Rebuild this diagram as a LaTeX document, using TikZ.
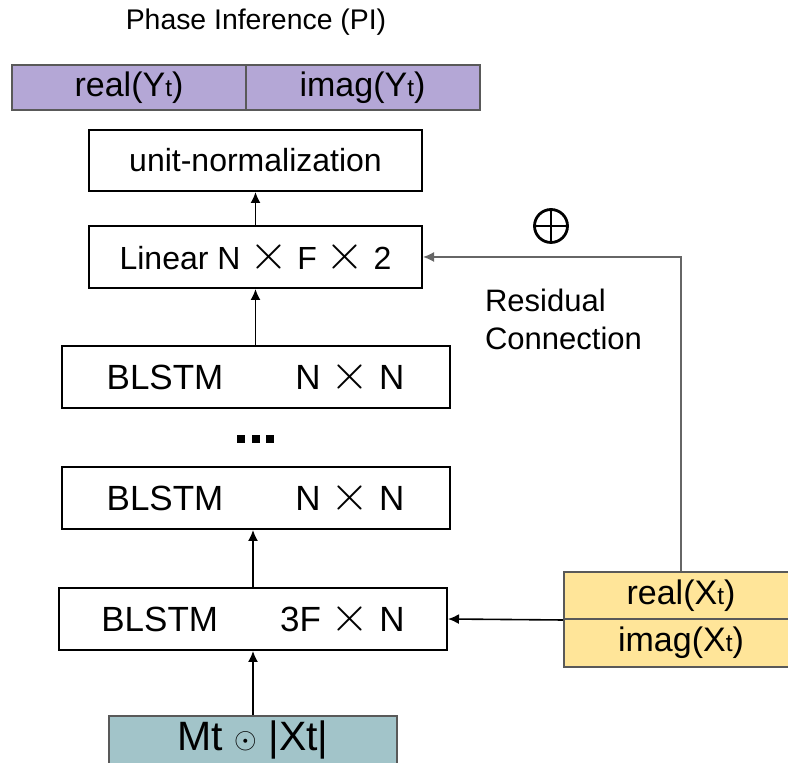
\documentclass[tikz,border=0pt]{standalone}
\usepackage{fontspec}
\setmainfont{Liberation Sans}
\usepackage{amsmath}
\usepackage{xcolor}
\usetikzlibrary{positioning}
\usetikzlibrary{arrows.meta}

\definecolor{phasepurple}{HTML}{B4A7D6}
\definecolor{specyellow}{HTML}{FFE599}
\definecolor{magteal}{HTML}{A2C4C9}
\definecolor{edgegray}{HTML}{595959}
\definecolor{resgray}{HTML}{666666}

\newcommand{\smt}{\scalebox{0.72}{t}}
\newcommand{\mulx}{\scalebox{1.45}{$\times$}}

\begin{document}
\begin{tikzpicture}[x=0.5pt,y=-0.5pt,
  layer/.style={draw=black, line width=1pt, fill=white, minimum width=166.5pt, minimum height=31pt, inner sep=0pt, font=\fontsize{17.5}{20}\selectfont},
  wide/.style={layer, minimum width=194pt},
  half/.style={draw=edgegray, line width=1pt, minimum width=117pt, inner sep=0pt, font=\fontsize{17}{20}\selectfont},
  arr/.style={-{Latex[length=5.5pt,width=5pt]}, line width=0.8pt}]

\useasboundingbox (0,0) rectangle (788,763);
\clip (0,0) rectangle (788,763);

% output of the phase branch
\node[font=\fontsize{14.2}{17}\selectfont] (title) at (256,22) {Phase Inference (PI)};
\node[half, fill=phasepurple, minimum height=22.5pt] (realy) at (129,87.5) {real(Y\smt)};
\node[half, fill=phasepurple, minimum height=22.5pt] (imagy) at (362.5,87.5) {imag(Y\smt)};

% stacked layers
\node[layer, font=\fontsize{16}{18}\selectfont, minimum height=30.5pt] (unitnorm) at (255.5,160.5) {unit-normalization};
\node[layer, font=\fontsize{16}{18}\selectfont] (linear) at (255.5,257) {Linear N \mulx{} F \mulx{} 2};
\node[wide] (blstma) at (255.5,377) {BLSTM\hspace{36pt}N \mulx{} N};
\foreach \dx in {241,255.5,270}
  \fill (\dx-4,435) rectangle (\dx+4,443);
\node[wide] (blstmb) at (255.5,498) {BLSTM\hspace{36pt}N \mulx{} N};
\node[wide] (blstmc) at (253,619) {BLSTM\hspace{31pt}3F \mulx{} N};

% inputs
\node[half, fill=magteal, minimum width=144pt, minimum height=24pt, font=\fontsize{20.5}{22}\selectfont] (mag) at (253,740) {Mt \raisebox{1pt}{\scalebox{0.7}{$\odot$}} |Xt|};
\node[half, fill=specyellow, minimum height=23.5pt, font=\fontsize{17}{19}\selectfont] (realx) at (681,595.5) {real(X\smt)};
\node[half, fill=specyellow, minimum height=24pt, font=\fontsize{17}{19}\selectfont] (imagx) at (681,643) {imag(X\smt)};

% residual path
\node[draw, circle, line width=1.4pt, minimum size=16.5pt, inner sep=0pt,
  path picture={\draw[line width=1.4pt] (path picture bounding box.north) -- (path picture bounding box.south)
  (path picture bounding box.west) -- (path picture bounding box.east);}] (oplus) at (551,226) {};
\node[anchor=west, align=left, font=\fontsize{15.5}{19}\selectfont] (reslabel) at (478,319) {Residual\\Connection};

\draw[arr] (linear) -- (unitnorm);
\draw[arr] (blstma) -- (linear);
\draw[arr] (blstmc.north) -- (blstmc.north |- blstmb.south);
\draw[arr] (mag) -- (blstmc);
\draw[arr] (realx.south west) -- (blstmc.east);
\draw[arr, resgray] (realx.north) |- (linear.east);

\end{tikzpicture}
\end{document}
